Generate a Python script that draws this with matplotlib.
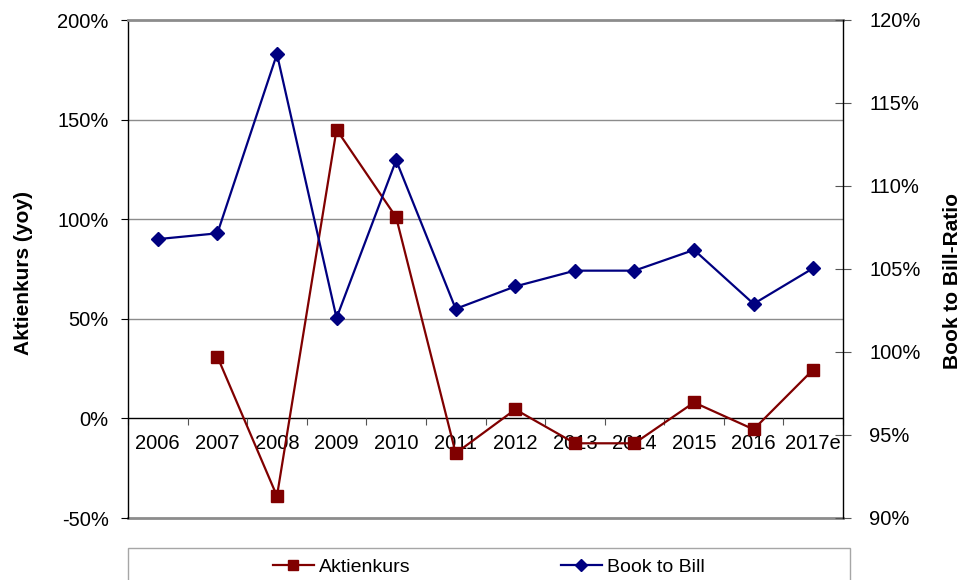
import matplotlib

matplotlib.use("Agg")

import matplotlib.pyplot as plt
import numpy as np
from matplotlib.lines import Line2D
from matplotlib.patches import Rectangle
from matplotlib.ticker import FixedLocator, PercentFormatter

plt.rcParams["font.family"] = ["Liberation Sans", "DejaVu Sans"]
plt.rcParams["axes.unicode_minus"] = False

years = ["2006", "2007", "2008", "2009", "2010", "2011",
         "2012", "2013", "2014", "2015", "2016", "2017e"]
# share price change, percent yoy (left axis); no value for 2006
aktienkurs = [np.nan, 31, -39, 145, 101, -17.5, 4.5, -12.5, -12.5, 8, -5.5, 24.5]
# book to bill ratio, percent (right axis)
book_to_bill = [106.8, 107.15, 117.95, 102.05, 111.55, 102.6,
                103.95, 104.9, 104.9, 106.15, 102.9, 105.05]
left_ticks = [-50, 0, 50, 100, 150, 200]
right_ticks = [90, 95, 100, 105, 110, 115, 120]

RED = "#800000"
BLUE = "#000080"
FS = 14.5

fig = plt.figure(figsize=(9.74, 5.8), dpi=100)
ax = fig.add_axes([128 / 974, 1 - 518 / 580, 715 / 974, 498 / 580])
ax2 = ax.twinx()

x = np.arange(len(years))

# gridlines
for t in left_ticks[2:-1]:
    ax.axhline(t, color="#8c8c8c", lw=1.0, zorder=0)
ax.axhline(-50, color="#8c8c8c", lw=2.0, zorder=0, clip_on=False)
ax.axhline(0, color="black", lw=1.0, zorder=1)

ax.plot(x, aktienkurs, color=RED, lw=1.6, marker="s", ms=8,
        markeredgecolor=RED, label="Aktienkurs", zorder=3)
ax2.plot(x, book_to_bill, color=BLUE, lw=1.6, marker="D", ms=7.5,
         markeredgecolor=BLUE, label="Book to Bill", zorder=3)

ax.set_xlim(-0.5, len(years) - 0.5)
ax.set_ylim(-50, 200)
ax2.set_ylim(90, 120)

# x axis sits on the zero line
ax.spines["bottom"].set_position(("data", 0))
ax.spines["bottom"].set_visible(False)
ax.spines["top"].set_color("#8c8c8c")
ax.spines["top"].set_linewidth(2.0)
ax.spines["left"].set_linewidth(1.0)
for s in ["top", "bottom", "left"]:
    ax2.spines[s].set_visible(False)
ax2.spines["right"].set_linewidth(1.0)
ax.spines["right"].set_visible(False)

ax.set_xticks(x)
ax.set_xticklabels(years, fontsize=FS)
ax.xaxis.set_minor_locator(FixedLocator(np.arange(len(years) + 1) - 0.5))
ax.tick_params(axis="x", which="major", length=0, pad=11.5)
ax.tick_params(axis="x", which="minor", length=5, direction="out", width=0.8,
               color="#555555")

ax.set_yticks(left_ticks)
ax.yaxis.set_major_formatter(PercentFormatter(decimals=0))
ax.tick_params(axis="y", length=5, direction="out", width=0.8, labelsize=FS, pad=9)

ax2.set_yticks(right_ticks)
ax2.yaxis.set_major_formatter(PercentFormatter(decimals=0))
ax2.tick_params(axis="y", length=11, direction="inout", width=0.8,
                labelsize=FS, pad=13.5, color="#555555")

ax.set_ylabel("Aktienkurs (yoy)", fontsize=15, fontweight="bold")
ax.yaxis.set_label_coords(-0.133, 0.492)
ax2.set_ylabel("Book to Bill-Ratio", fontsize=15, fontweight="bold")
ax2.yaxis.set_label_coords(1.140, 0.476)
ax2.yaxis.label.set_rotation(90)

# legend box at the bottom, cut by the figure edge
fig.patches.append(Rectangle((128 / 974, -0.05), 722 / 974, 1 - 548 / 580 + 0.05,
                             transform=fig.transFigure, fill=False,
                             edgecolor="#a6a6a6", lw=1.0))
handles = [
    Line2D([], [], color=RED, lw=1.6, marker="s", ms=7, markeredgecolor=RED),
    Line2D([], [], color=BLUE, lw=1.6, marker="D", ms=6, markeredgecolor=BLUE),
]
fig.legend(handles, ["Aktienkurs", "Book to Bill"], loc="center",
           bbox_to_anchor=(489 / 974, 1 - 567 / 580), ncol=2, frameon=False,
           fontsize=14, handlelength=2.1, handletextpad=0.3, columnspacing=7.7)

fig.savefig("out.png", dpi=100)
